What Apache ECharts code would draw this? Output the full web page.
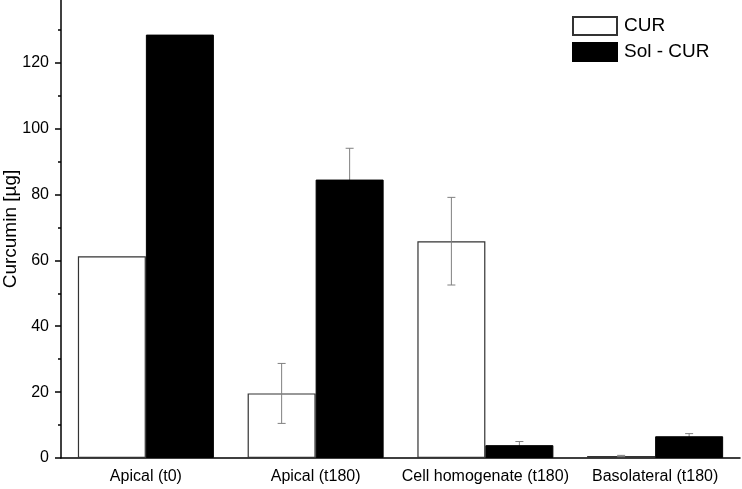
<!DOCTYPE html>
<html>
<head>
<meta charset="utf-8">
<script src="https://cdn.jsdelivr.net/npm/echarts@6/dist/echarts.min.js"></script>
<style>
  html, body { margin: 0; padding: 0; background: #fff; }
  #chart { width: 742px; height: 489px; }
</style>
</head>
<body>
<div id="chart"></div>
<script>
const categories = ['Apical (t0)', 'Apical (t180)', 'Cell homogenate (t180)', 'Basolateral (t180)'];
const curValues = [61.2, 19.6, 65.8, 0.6];
const curErrors = [0, 9.1, 13.3, 0.2];
const solValues = [128.5, 84.5, 3.9, 6.6];
const solErrors = [0, 9.5, 1.1, 0.8];
const majorTicks = [0, 20, 40, 60, 80, 100, 120];
const minorTicks = [10, 30, 50, 70, 90, 110, 130];

const FONT = "'Liberation Sans', Arial, sans-serif";
const BAR_W = 68;

// error bar drawn at the centre of the bar (offset from the category centre)
function errorRenderer(values, errors, offset) {
  return function (params, api) {
    const i = params.dataIndex;
    const v = values[i], e = errors[i];
    if (!e) return null;
    const top = api.coord([i, v + e]);
    const bot = api.coord([i, v - e]);
    const x = top[0] + offset;
    const style = { stroke: '#808080', lineWidth: 1 };
    return {
      type: 'group',
      children: [
        { type: 'line', shape: { x1: x, y1: top[1], x2: x, y2: bot[1] }, style: style },
        { type: 'line', shape: { x1: x - 4, y1: top[1], x2: x + 4, y2: top[1] }, style: style },
        { type: 'line', shape: { x1: x - 4, y1: bot[1], x2: x + 4, y2: bot[1] }, style: style }
      ]
    };
  };
}

const chart = echarts.init(document.getElementById('chart'));
chart.setOption({
  animation: false,
  textStyle: { fontFamily: FONT },
  grid: { left: 61, right: 2, top: 0, bottom: 31, containLabel: false, outerBoundsMode: 'none' },
  legend: {
    left: 572, top: 16, orient: 'vertical', padding: 0,
    itemWidth: 44, itemHeight: 18, itemGap: 6, icon: 'rect',
    textStyle: { fontFamily: FONT, fontSize: 19, color: '#000', padding: [0, 0, 0, 2] },
    data: ['CUR', 'Sol - CUR']
  },
  xAxis: {
    type: 'category', data: categories,
    axisLine: { lineStyle: { color: '#000', width: 1.5 } },
    axisTick: { alignWithLabel: true, length: 6, lineStyle: { color: '#000', width: 1.5 } },
    axisLabel: { color: '#000', fontSize: 16, fontFamily: FONT, margin: 11, interval: 0 }
  },
  yAxis: [
    {
      type: 'value', min: 0, max: 139,
      name: 'Curcumin [µg]', nameLocation: 'middle', nameGap: 41, nameRotate: 90,
      nameMoveOverlap: false,
      nameTextStyle: { color: '#000', fontSize: 19, fontFamily: FONT },
      axisLine: { show: true, lineStyle: { color: '#000', width: 1.5 } },
      axisTick: { show: true, length: 6, customValues: majorTicks, lineStyle: { color: '#000', width: 1.5 } },
      axisLabel: { color: '#000', fontSize: 16, fontFamily: FONT, margin: 12, customValues: majorTicks },
      splitLine: { show: false }
    },
    {
      type: 'value', min: 0, max: 139, position: 'left',
      axisLine: { show: false },
      axisTick: { show: true, length: 3, customValues: minorTicks, lineStyle: { color: '#000', width: 1.5 } },
      axisLabel: { show: false },
      splitLine: { show: false }
    }
  ],
  series: [
    {
      name: 'CUR', type: 'bar', data: curValues, barWidth: BAR_W, barGap: '0%', z: 2,
      itemStyle: { color: '#fff', borderColor: '#333', borderWidth: 1.2 }
    },
    {
      name: 'Sol - CUR', type: 'bar', data: solValues, barWidth: BAR_W, barGap: '0%', z: 2,
      itemStyle: { color: '#000', borderColor: '#000', borderWidth: 1 }
    },
    {
      type: 'custom', data: curValues.map((v, i) => [i, v]), z: 3, silent: true,
      renderItem: errorRenderer(curValues, curErrors, -BAR_W / 2)
    },
    {
      type: 'custom', data: solValues.map((v, i) => [i, v]), z: 1, silent: true,
      renderItem: errorRenderer(solValues, solErrors, BAR_W / 2)
    }
  ]
});
</script>
</body>
</html>
